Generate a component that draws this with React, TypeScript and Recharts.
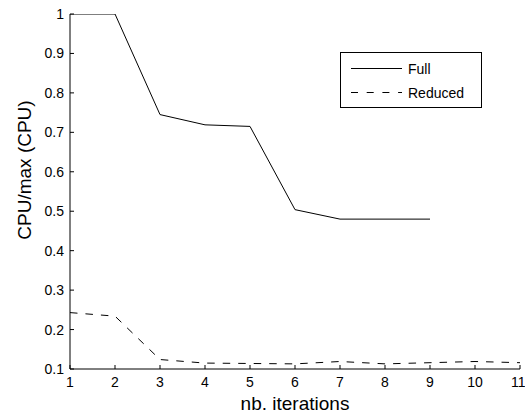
import React from 'react';
import { LineChart, Line, XAxis, YAxis, Legend } from 'recharts';

const iterations = [1, 2, 3, 4, 5, 6, 7, 8, 9, 10, 11];
const fullValues: (number | null)[] = [1.0, 1.0, 0.745, 0.719, 0.715, 0.504, 0.48, 0.48, 0.48, null, null];
const reducedValues = [0.243, 0.234, 0.124, 0.115, 0.114, 0.113, 0.119, 0.113, 0.116, 0.119, 0.116];
const xTicks = [1, 2, 3, 4, 5, 6, 7, 8, 9, 10, 11];
const yTicks = [0.1, 0.2, 0.3, 0.4, 0.5, 0.6, 0.7, 0.8, 0.9, 1];
const seriesNames = ['Full', 'Reduced'];

const data = iterations.map((x, i) => ({
  x,
  full: fullValues[i],
  reduced: reducedValues[i],
}));

const FONT = '"Liberation Sans", Arial, Helvetica, sans-serif';
const DASH = '7.5 8';

const renderLegend = () => (
  <div
    style={{
      width: 142,
      height: 56,
      border: '1px solid #000',
      background: '#fff',
      boxSizing: 'border-box',
    }}
  >
    <svg width={140} height={54} style={{ display: 'block' }}>
      <line x1={10} x2={61} y1={15.5} y2={15.5} stroke="#000" strokeWidth={1} />
      <text x={67} y={20.5} fontSize={14} fontFamily={FONT} fill="#000">
        {seriesNames[0]}
      </text>
      <line x1={10} x2={61} y1={39.5} y2={39.5} stroke="#000" strokeWidth={1} strokeDasharray="7 8.7" />
      <text x={67} y={44.5} fontSize={14} fontFamily={FONT} fill="#000">
        {seriesNames[1]}
      </text>
    </svg>
  </div>
);

export default function App() {
  return (
    <div style={{ position: 'absolute', left: 0, top: 0, width: 525, height: 415, background: '#fff' }}>
      <LineChart
        width={525}
        height={415}
        data={data}
        margin={{ top: 14, right: 5, left: 0, bottom: 0 }}
        style={{ fontFamily: FONT }}
      >
        <XAxis
          dataKey="x"
          type="number"
          domain={[1, 11]}
          ticks={xTicks}
          allowDataOverflow
          height={46}
          tickSize={-4}
          tickMargin={12}
          stroke="#000"
          tick={{ fill: '#000', fontSize: 14, fontFamily: FONT }}
          axisLine={{ stroke: '#000', strokeWidth: 1 }}
          tickLine={{ stroke: '#000' }}
          label={{
            content: () => (
              <text x={295} y={410} textAnchor="middle" fontSize={19} fontFamily={FONT} fill="#000">
                nb. iterations
              </text>
            ),
          }}
        />
        <YAxis
          type="number"
          domain={[0.1, 1]}
          ticks={yTicks}
          allowDataOverflow
          width={70}
          tickSize={-4}
          tickMargin={10}
          stroke="#000"
          tick={{ fill: '#000', fontSize: 14, fontFamily: FONT }}
          tickFormatter={(v: number) => String(v)}
          axisLine={{ stroke: '#000', strokeWidth: 1 }}
          tickLine={{ stroke: '#000' }}
          label={{
            content: () => (
              <text
                x={31}
                y={170}
                transform="rotate(-90 31 170)"
                textAnchor="middle"
                fontSize={19}
                fontFamily={FONT}
                fill="#000"
              >
                CPU/max (CPU)
              </text>
            ),
          }}
        />
        <Legend
          layout="horizontal"
          verticalAlign="middle"
          align="center"
          content={renderLegend}
          wrapperStyle={{ position: 'absolute', left: 340, top: 52, width: 142, height: 56 }}
        />
        <Line
          type="linear"
          dataKey="full"
          name={seriesNames[0]}
          stroke="#000"
          strokeWidth={1}
          dot={false}
          isAnimationActive={false}
        />
        <Line
          type="linear"
          dataKey="reduced"
          name={seriesNames[1]}
          stroke="#000"
          strokeWidth={1}
          strokeDasharray={DASH}
          dot={false}
          isAnimationActive={false}
        />
      </LineChart>
    </div>
  );
}
